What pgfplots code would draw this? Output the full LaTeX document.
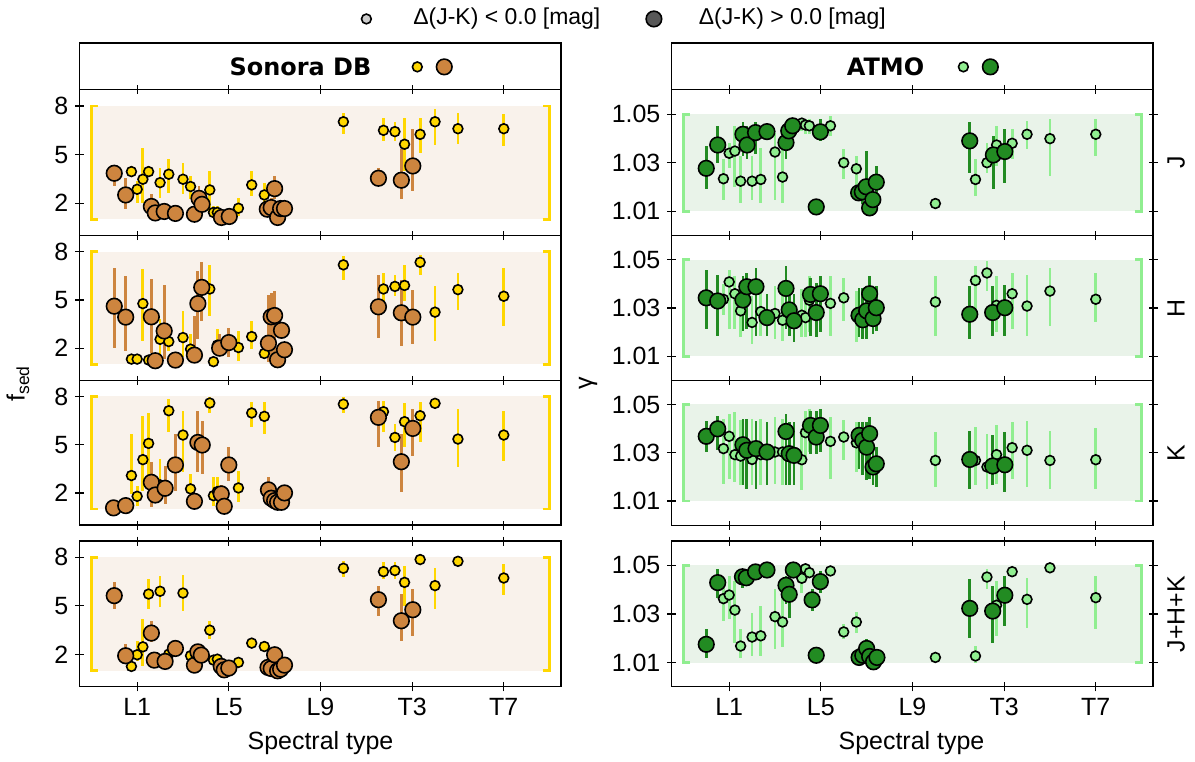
\documentclass[border=0pt]{standalone}
\usepackage{fontspec}
\setmainfont{Liberation Sans}
\newfontfamily\titlefont{DejaVu Sans}
\usepackage{pgfplots}
\usepackage{pgfplotstable}
\pgfplotsset{compat=1.18}

\definecolor{gold}{RGB}{255,215,0}
\definecolor{peru}{RGB}{205,133,63}
\definecolor{lgreen}{RGB}{144,238,144}
\definecolor{fgreen}{RGB}{34,139,34}
\definecolor{shadeS}{RGB}{249,242,235}
\definecolor{shadeA}{RGB}{233,243,233}
\definecolor{lgrey}{RGB}{205,205,205}
\definecolor{dgrey}{RGB}{88,88,88}

% columns: x  y  lower  upper
% ---- Sonora DB ----
\pgfplotstableread{
x y lo hi
10.75 3.95 3.6 4.3
11.0 2.86 2.04 3.38
11.25 3.48 2.04 5.43
11.5 3.95 3.6 4.3
12.0 3.27 2.35 4.2
12.38 3.79 2.66 4.71
13.0 3.48 2.55 4.5
13.33 3.03 2.25 3.69
14.17 2.82 1.53 4.0
14.33 1.43 1.1 1.8
14.5 1.43 1.1 1.8
15.42 1.69 1.22 2.35
16.0 3.13 2.45 4.0
16.55 2.51 1.84 3.27
20.0 7.03 6.25 7.59
21.75 6.5 5.84 7.24
22.25 6.42 5.84 7.0
22.67 5.64 4.0 7.28
23.35 6.25 5.08 7.28
24.0 7.03 5.58 7.84
25.0 6.6 5.64 7.59
27.0 6.6 5.53 7.49
}\SJs
\pgfplotstableread{
x y lo hi
10.0 3.85 3.07 4.3
10.5 2.51 1.63 3.58
11.62 1.8 1.42 2.55
11.79 1.4 1.4 1.4
12.18 1.49 1.49 1.49
12.67 1.37 1.37 1.37
13.5 1.32 1.32 1.32
13.7 2.3 1.43 3.07
13.83 1.93 1.93 1.93
14.68 1.12 1.12 1.12
15.02 1.18 1.18 1.18
16.68 1.63 1.63 1.63
16.85 1.73 1.4 2.3
17.0 2.9 2.25 3.69
17.13 1.12 1.12 1.12
17.26 1.67 1.67 1.67
17.43 1.67 1.35 2.1
21.53 3.54 3.07 4.2
22.53 3.42 2.25 5.33
23.03 4.3 2.76 6.56
}\SJl
\pgfplotstableread{
x y lo hi
10.75 1.32 1.1 1.6
11.0 1.32 1.32 1.32
11.25 4.77 2.45 6.91
11.5 1.26 1.26 1.26
12.0 2.55 1.32 3.79
12.38 2.41 1.8 3.4
13.0 2.66 1.43 4.3
13.33 1.94 1.5 2.9
14.17 5.68 4.0 7.18
14.33 1.16 1.16 1.16
14.5 2.19 1.73 3.17
15.42 2.04 1.22 3.07
16.0 2.72 1.94 3.69
16.55 1.67 1.5 2.0
20.0 7.18 6.25 7.73
21.75 5.68 4.92 6.66
22.25 5.84 5.23 6.56
22.67 5.9 4.92 7.18
23.35 7.34 6.58 7.82
24.0 4.24 2.45 5.84
25.0 5.64 4.4 6.7
27.0 5.23 3.38 6.97
}\SHs
\pgfplotstableread{
x y lo hi
10.0 4.61 2.04 6.97
10.5 3.93 1.84 6.46
11.62 3.95 1.73 6.29
11.79 1.22 1.22 1.22
12.18 3.07 1.32 5.95
12.67 1.26 1.26 1.26
13.5 1.57 1.3 4.0
13.65 4.77 2.55 6.77
13.82 5.78 3.69 7.38
14.6 2.0 1.7 2.9
15.0 2.35 1.42 3.27
16.73 2.31 1.12 5.33
16.85 3.95 1.43 5.43
17.0 4.03 1.53 5.53
17.13 1.28 1.28 1.28
17.3 3.11 3.11 3.11
17.43 1.9 1.9 1.9
21.53 4.57 2.66 6.56
22.53 4.2 2.14 6.25
23.03 3.93 2.25 5.64
}\SHl
\pgfplotstableread{
x y lo hi
10.75 3.08 1.94 5.66
11.0 1.79 1.21 2.45
11.25 4.07 2.14 6.8
11.5 5.08 2.87 7.0
12.0 2.5 1.83 4.11
12.38 7.11 5.77 7.83
13.0 5.6 3.28 7.11
13.33 2.25 1.94 3.18
14.17 7.59 7.0 7.94
14.33 1.83 1.21 2.97
14.5 2.08 1.32 2.97
15.42 2.31 1.42 3.39
16.0 6.97 6.08 7.63
16.55 6.76 5.66 7.63
20.0 7.52 7.0 7.94
21.75 7.05 5.77 7.73
22.25 5.45 4.63 6.28
22.67 6.43 4.83 7.59
23.35 6.8 5.14 7.63
24.0 7.57 7.21 7.83
25.0 5.35 3.6 7.21
27.0 5.6 4.0 7.11
}\SKs
\pgfplotstableread{
x y lo hi
9.97 1.07 1.07 1.07
10.5 1.21 1.21 1.21
11.62 2.66 1.1 3.9
11.79 1.87 1.87 1.87
12.22 2.29 1.32 3.65
12.67 3.74 2.14 5.66
13.5 1.48 1.48 1.48
13.65 5.14 3.28 7.11
13.84 4.98 3.18 6.49
14.67 1.94 1.5 2.5
14.8 1.17 1.17 1.17
15.0 3.74 2.77 4.83
16.73 2.19 1.32 2.97
16.85 1.67 1.67 1.67
17.0 1.52 1.52 1.52
17.13 1.42 1.42 1.42
17.3 1.42 1.42 1.42
17.43 2.0 2.0 2.0
21.53 6.7 4.83 7.73
22.53 3.94 2.04 5.66
23.03 6.01 4.32 7.21
}\SKl
\pgfplotstableread{
x y lo hi
10.75 1.26 1.26 1.26
11.0 1.98 1.61 2.85
11.25 2.47 1.3 4.19
11.5 5.73 4.8 6.66
12.0 5.9 4.91 6.87
12.38 2.02 2.02 2.02
13.0 5.79 4.7 6.91
13.33 1.92 1.92 1.92
14.17 3.5 2.95 4.08
14.33 1.65 1.65 1.65
14.5 1.71 1.4 2.0
15.42 1.51 1.35 1.85
16.0 2.7 2.7 2.7
16.55 2.49 2.49 2.49
20.0 7.32 6.76 7.79
21.75 7.11 6.66 7.69
22.25 7.18 6.66 7.69
22.67 6.45 5.0 7.48
23.35 7.86 7.86 7.86
24.0 6.25 4.8 7.32
25.0 7.75 7.75 7.75
27.0 6.72 5.67 7.59
}\SAs
\pgfplotstableread{
x y lo hi
10.0 5.63 4.8 6.5
10.5 1.92 1.5 2.64
11.62 3.32 2.74 4.08
11.75 1.65 1.65 1.65
12.22 1.57 1.57 1.57
12.67 2.37 2.37 2.37
13.5 1.34 1.34 1.34
13.65 2.16 2.16 2.16
13.8 1.96 1.96 1.96
14.67 1.26 1.26 1.26
14.8 1.05 1.05 1.05
15.0 1.16 1.16 1.16
16.71 1.2 1.2 1.2
16.85 1.13 1.13 1.13
17.0 1.98 1.98 1.98
17.13 0.99 0.99 0.99
17.26 1.09 1.09 1.09
17.43 1.34 1.34 1.34
21.53 5.38 4.39 6.25
22.53 4.08 2.85 5.73
23.03 4.76 3.15 6.04
}\SAl
% ---- ATMO ----
\pgfplotstableread{
x y lo hi
10.75 1.0234 1.0148 1.0314
11.0 1.0339 1.028 1.038
11.25 1.0348 1.020 1.045
11.5 1.0224 1.0134 1.0328
12.0 1.0224 1.0148 1.0328
12.38 1.0231 1.0134 1.0362
13.0 1.0344 1.0148 1.0424
13.33 1.0241 1.0134 1.0369
14.17 1.0463 1.043 1.048
14.33 1.0455 1.042 1.048
14.5 1.0452 1.042 1.048
15.42 1.0452 1.041 1.0493
16.0 1.03 1.0231 1.0355
16.55 1.0275 1.0203 1.0328
20.0 1.0132 1.0132 1.0132
21.75 1.0231 1.0162 1.0314
22.25 1.03 1.0259 1.0383
22.67 1.0373 1.0286 1.0452
23.35 1.038 1.0314 1.0438
24.0 1.0417 1.0355 1.0472
25.0 1.0399 1.0245 1.048
27.0 1.0417 1.0328 1.0479
}\AJs
\pgfplotstableread{
x y lo hi
10.0 1.0277 1.019 1.0369
10.5 1.0373 1.030 1.0452
11.6 1.0417 1.0328 1.0466
11.78 1.0373 1.0314 1.0452
12.15 1.0424 1.0334 1.0466
12.65 1.0428 1.040 1.045
13.48 1.0383 1.0314 1.0452
13.6 1.0431 1.040 1.046
13.77 1.0452 1.043 1.047
14.8 1.0118 1.0118 1.0118
14.98 1.0427 1.039 1.048
16.65 1.0176 1.0176 1.0176
16.81 1.018 1.013 1.022
16.98 1.0201 1.0135 1.0348
17.13 1.0114 1.0114 1.0114
17.27 1.0148 1.0148 1.0148
17.42 1.022 1.0169 1.0286
21.5 1.039 1.0259 1.0466
22.53 1.0332 1.019 1.041
23.03 1.0346 1.0217 1.0438
}\AJl
\pgfplotstableread{
x y lo hi
10.75 1.0336 1.027 1.040
11.0 1.0408 1.0212 1.0459
11.25 1.0359 1.0212 1.0432
11.5 1.0288 1.0178 1.0404
12.0 1.024 1.0151 1.0349
12.38 1.0285 1.0185 1.039
13.0 1.0277 1.0171 1.039
13.33 1.0249 1.0164 1.0363
14.17 1.027 1.0178 1.0377
14.33 1.026 1.0178 1.0377
14.5 1.0332 1.0199 1.0432
15.42 1.0319 1.0185 1.0432
16.0 1.0342 1.0247 1.0425
16.55 1.0267 1.0158 1.037
20.0 1.0325 1.0185 1.0432
21.75 1.0414 1.0281 1.0473
22.25 1.0445 1.037 1.0493
22.67 1.0311 1.0199 1.0432
23.35 1.0359 1.0212 1.0445
24.0 1.0308 1.0185 1.0438
25.0 1.037 1.0226 1.0466
27.0 1.0336 1.024 1.0445
}\AHs
\pgfplotstableread{
x y lo hi
10.0 1.0342 1.0212 1.0459
10.5 1.0329 1.0185 1.0438
11.6 1.0333 1.0205 1.0432
11.77 1.0388 1.0212 1.0445
12.17 1.0388 1.0185 1.0466
12.65 1.026 1.0185 1.0356
13.48 1.0381 1.0212 1.0473
13.62 1.0292 1.0185 1.0397
13.83 1.0247 1.0158 1.0356
14.55 1.0356 1.0185 1.0425
14.8 1.0281 1.0178 1.0404
14.98 1.0359 1.0199 1.0432
16.67 1.027 1.0178 1.0384
16.83 1.0251 1.0171 1.0384
17.0 1.0288 1.0171 1.039
17.13 1.0359 1.0226 1.0432
17.28 1.0256 1.0192 1.0349
17.42 1.0301 1.0205 1.039
21.5 1.0274 1.0171 1.039
22.5 1.0281 1.0185 1.039
23.03 1.0301 1.0185 1.0397
}\AHl
\pgfplotstableread{
x y lo hi
10.75 1.0317 1.0172 1.0441
11.0 1.0368 1.0192 1.0461
11.25 1.0292 1.0179 1.0468
11.5 1.0286 1.0165 1.0434
12.0 1.0272 1.0165 1.0441
12.38 1.0292 1.0165 1.0441
13.0 1.0303 1.0172 1.0448
13.33 1.0303 1.0165 1.0441
14.17 1.0271 1.0144 1.0399
14.33 1.0383 1.0261 1.0475
14.5 1.042 1.0303 1.0482
15.42 1.0347 1.0192 1.0448
16.0 1.0365 1.0268 1.0434
16.55 1.0341 1.022 1.0427
20.0 1.0268 1.0158 1.0386
21.75 1.0268 1.0165 1.0406
22.25 1.0241 1.0151 1.0379
22.67 1.0292 1.0172 1.0413
23.35 1.0321 1.0192 1.0427
24.0 1.031 1.0158 1.043
25.0 1.0268 1.0151 1.0392
27.0 1.0271 1.0151 1.0402
}\AKs
\pgfplotstableread{
x y lo hi
10.0 1.0368 1.0303 1.043
10.5 1.0399 1.031 1.0454
11.6 1.0333 1.0165 1.0441
11.77 1.031 1.0151 1.0441
12.17 1.0317 1.0151 1.043
12.65 1.0303 1.0165 1.0427
13.48 1.0388 1.0165 1.0461
13.62 1.0296 1.0165 1.0427
13.83 1.0289 1.0165 1.0427
14.55 1.0413 1.0296 1.0475
14.8 1.0365 1.0296 1.0475
14.98 1.0413 1.0303 1.0482
16.67 1.0372 1.0234 1.0427
16.83 1.0351 1.0206 1.0427
17.0 1.0323 1.0186 1.0427
17.13 1.0379 1.0192 1.0448
17.28 1.0241 1.0165 1.0317
17.42 1.0254 1.0158 1.0323
21.5 1.0272 1.0151 1.0392
22.5 1.0245 1.0165 1.0372
23.03 1.025 1.0137 1.0386
}\AKl
\pgfplotstableread{
x y lo hi
10.75 1.0363 1.0271 1.0442
11.0 1.0378 1.0278 1.0456
11.25 1.0316 1.0182 1.0436
11.5 1.0168 1.012 1.0237
12.0 1.0205 1.0127 1.0305
12.38 1.021 1.0127 1.0333
13.0 1.0289 1.0155 1.0401
13.33 1.0267 1.0162 1.0401
14.17 1.0447 1.0388 1.0484
14.33 1.0486 1.0486 1.0486
14.5 1.047 1.047 1.047
15.42 1.0477 1.0477 1.0477
16.0 1.0226 1.0196 1.0258
16.55 1.0267 1.0223 1.0308
20.0 1.0121 1.0121 1.0121
21.75 1.0127 1.01 1.0168
22.25 1.0452 1.0401 1.0484
22.67 1.0336 1.021 1.0436
23.35 1.0474 1.0474 1.0474
24.0 1.036 1.0244 1.0449
25.0 1.049 1.049 1.049
27.0 1.0367 1.0237 1.0456
}\AAs
\pgfplotstableread{
x y lo hi
10.0 1.0175 1.012 1.024
10.5 1.0429 1.0367 1.0484
11.58 1.0453 1.0408 1.0477
11.75 1.0449 1.042 1.047
12.15 1.0473 1.0473 1.0473
12.65 1.0481 1.0481 1.0481
13.48 1.0418 1.034 1.0456
13.62 1.0381 1.0285 1.0442
13.8 1.0481 1.0481 1.0481
14.62 1.0358 1.0312 1.0401
14.8 1.013 1.013 1.013
14.98 1.0433 1.0388 1.0477
16.67 1.0121 1.0121 1.0121
16.83 1.013 1.013 1.013
17.0 1.0158 1.0107 1.0196
17.13 1.0125 1.0125 1.0125
17.3 1.0103 1.0103 1.0103
17.45 1.0121 1.0121 1.0121
21.5 1.0323 1.0203 1.0442
22.5 1.0312 1.0182 1.0415
23.03 1.0377 1.0251 1.0456
}\AAl

\pgfplotsset{
  panel/.style={scale only axis, width=241pt, anchor=north west,
    xmin=8.5, xmax=29.5, xtick={11,15,19,23,27}, xticklabels={},
    tick align=center, major tick length=4.5pt,
    axis line style={line width=0.6pt},
    every tick/.append style={line width=0.6pt, black},
    tick label style={font=\fontsize{12.5}{14}\selectfont},
    /pgf/number format/assume math mode=true},
  sonora/.style={panel, ymin=0, ymax=9, ytick={2,5,8}, ytick pos=left},
  atmo/.style={panel, ymin=1.0, ymax=1.06, ytick={1.01,1.03,1.05},
    yticklabel pos=left,
    yticklabel style={/pgf/number format/.cd, fixed, precision=2, fixed zerofill}},
  bottom/.style={xticklabels={L1,L5,L9,T3,T7}},
  ebar/.style={only marks, mark=none, forget plot,
    error bars/y dir=both, error bars/y explicit, error bars/error mark=none,
    error bars/error bar style={line width=1.4pt, draw=#1}},
  smk/.style={only marks, mark=*, mark size=2.45pt,
    mark options={fill=#1, draw=black, line width=0.8pt}},
  lmk/.style={only marks, mark=*, mark size=3.9pt,
    mark options={fill=#1, draw=black, line width=0.8pt}},
}

% prior range box with brackets: shade, bracket colour, low, high
\newcommand{\prior}[4]{%
  \addplot[fill=#1, draw=none, forget plot] coordinates {(9,#3) (29,#3) (29,#4) (9,#4)};
  \addplot[#2, line width=1.4pt, forget plot] coordinates {(9.3,#3) (9,#3) (9,#4) (9.3,#4)};
  \addplot[#2, line width=1.4pt, forget plot] coordinates {(28.7,#3) (29,#3) (29,#4) (28.7,#4)};
}
% small table, large table, small colour, large colour
\newcommand{\series}[4]{%
  \addplot[ebar=#3] table[x=x, y=y, y error plus expr=\thisrow{hi}-\thisrow{y}, y error minus expr=\thisrow{y}-\thisrow{lo}] {#1};
  \addplot[ebar=#4] table[x=x, y=y, y error plus expr=\thisrow{hi}-\thisrow{y}, y error minus expr=\thisrow{y}-\thisrow{lo}] {#2};
  \addplot[smk=#3] table[x=x, y=y] {#1};
  \addplot[lmk=#4] table[x=x, y=y] {#2};
}

\begin{document}
\begin{tikzpicture}
\path (0,0) rectangle (597.5pt,380pt);

% Sonora DB column
\begin{axis}[sonora, at={(39pt,335pt)}, height=73pt]
  \prior{shadeS}{gold}{1}{8}
  \series{\SJs}{\SJl}{gold}{peru}
\end{axis}
\begin{axis}[sonora, at={(39pt,262pt)}, height=72.5pt]
  \prior{shadeS}{gold}{1}{8}
  \series{\SHs}{\SHl}{gold}{peru}
\end{axis}
\begin{axis}[sonora, at={(39pt,189.5pt)}, height=72.5pt]
  \prior{shadeS}{gold}{1}{8}
  \series{\SKs}{\SKl}{gold}{peru}
\end{axis}
\begin{axis}[sonora, bottom, at={(39pt,109pt)}, height=73pt]
  \prior{shadeS}{gold}{1}{8}
  \series{\SAs}{\SAl}{gold}{peru}
\end{axis}

% ATMO column
\begin{axis}[atmo, at={(335.5pt,335pt)}, height=73pt]
  \prior{shadeA}{lgreen}{1.01}{1.05}
  \series{\AJs}{\AJl}{lgreen}{fgreen}
\end{axis}
\begin{axis}[atmo, at={(335.5pt,262pt)}, height=72.5pt]
  \prior{shadeA}{lgreen}{1.01}{1.05}
  \series{\AHs}{\AHl}{lgreen}{fgreen}
\end{axis}
\begin{axis}[atmo, at={(335.5pt,189.5pt)}, height=72.5pt]
  \prior{shadeA}{lgreen}{1.01}{1.05}
  \series{\AKs}{\AKl}{lgreen}{fgreen}
\end{axis}
\begin{axis}[atmo, bottom, at={(335.5pt,109pt)}, height=73pt]
  \prior{shadeA}{lgreen}{1.01}{1.05}
  \series{\AAs}{\AAl}{lgreen}{fgreen}
\end{axis}

% overlay in pixel units: titles, legend, labels
\begin{axis}[scale only axis, hide axis, clip=false, at={(0,0)}, anchor=south west,
  width=597.5pt, height=380pt, xmin=0, xmax=1195, ymin=0, ymax=760]
  \draw[line width=0.6pt] (axis cs:78,670) rectangle (axis cs:560,717);
  \draw[line width=0.6pt] (axis cs:671,670) rectangle (axis cs:1153,717);
  \node[font=\titlefont\bfseries\fontsize{12}{14}\selectfont] at (axis cs:299,693) {Sonora DB};
  \node[font=\titlefont\bfseries\fontsize{12}{14}\selectfont] at (axis cs:885,693) {ATMO};
  \addplot[smk=gold] coordinates {(416,693)};
  \addplot[lmk=peru] coordinates {(443,693)};
  \addplot[smk=lgreen] coordinates {(963,693)};
  \addplot[lmk=fgreen] coordinates {(990,693)};
  % legend
  \addplot[smk=lgrey] coordinates {(365,741)};
  \addplot[lmk=dgrey] coordinates {(653,741)};
  \node[anchor=west, font=\fontsize{11.5}{13}\selectfont] at (axis cs:405,741) {Δ(J-K) < 0.0 [mag]};
  \node[anchor=west, font=\fontsize{11.5}{13}\selectfont] at (axis cs:691,741) {Δ(J-K) > 0.0 [mag]};
  % axis labels
  \node[font=\fontsize{12.5}{14}\selectfont] at (axis cs:319,16) {Spectral type};
  \node[font=\fontsize{12.5}{14}\selectfont] at (axis cs:911,16) {Spectral type};
  \node[rotate=90, font=\fontsize{12.5}{14}\selectfont] at (axis cs:16,376) {f\textsubscript{sed}};
  \node[rotate=90, font=\fontsize{12.5}{14}\selectfont] at (axis cs:587,376) {γ};
  \node[rotate=90, font=\fontsize{12.5}{14}\selectfont] at (axis cs:1176,597) {J};
  \node[rotate=90, font=\fontsize{12.5}{14}\selectfont] at (axis cs:1176,451) {H};
  \node[rotate=90, font=\fontsize{12.5}{14}\selectfont] at (axis cs:1176,306) {K};
  \node[rotate=90, font=\fontsize{12.5}{14}\selectfont] at (axis cs:1176,145) {J+H+K};
\end{axis}
\end{tikzpicture}
\end{document}
